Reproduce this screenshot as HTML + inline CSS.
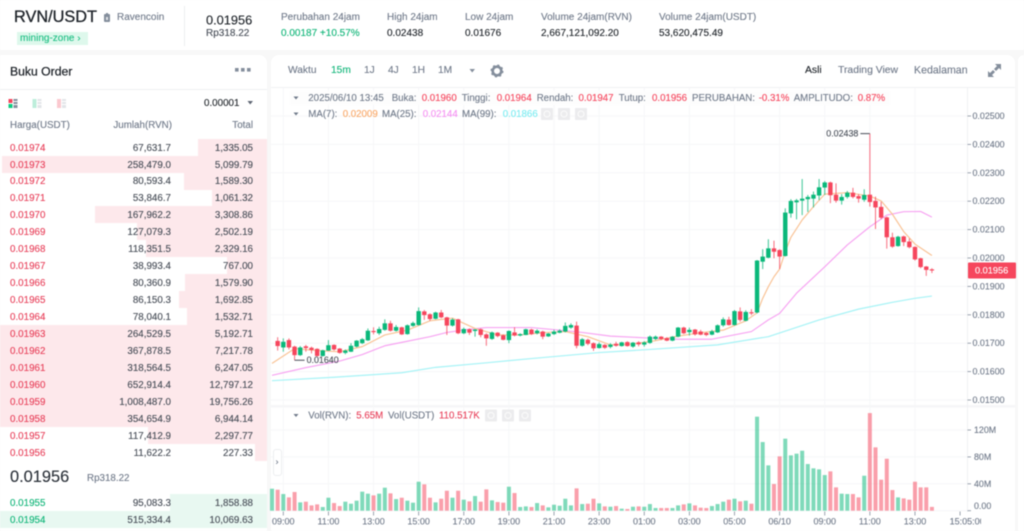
<!DOCTYPE html>
<html lang="id">
<head>
<meta charset="utf-8">
<title>RVN/USDT</title>
<style>
html,body{margin:0;padding:0;width:1024px;height:531px;overflow:hidden;background:#f8f8f8;font-family:"Liberation Sans",sans-serif;color:#1e2329}
#root{position:absolute;left:0;top:0;width:1024px;height:531px;overflow:hidden;filter:blur(0.45px)}
.t{position:absolute;white-space:nowrap;transform:translateY(-50%);line-height:1.2;font-size:10px;margin-top:1px;-webkit-text-stroke:.12px currentColor}
.g{color:#707a8a}
.up{color:#0fb578}
.dn{color:#e8405a}
.panel{position:absolute;background:#fff}
svg text{font-family:"Liberation Sans",sans-serif}
</style>
</head>
<body>
<div id="root">

<div class="panel" style="left:0;top:0;width:1024px;height:50px"></div>
<div class="t" style="left:14px;top:17px;font-size:16.3px;-webkit-text-stroke:.3px #1e2329">RVN/USDT</div>
<svg style="position:absolute;left:103px;top:13px" width="8" height="10"><rect x="1" y="1" width="6" height="8" rx="1" fill="#848e9c"/><rect x="3" y="0" width="2" height="2" fill="#848e9c"/><rect x="3" y="4" width="2" height="3" fill="#dfe2e6"/></svg>
<div class="t g" style="left:117px;top:17px;font-size:10px">Ravencoin</div>
<div style="position:absolute;left:17px;top:32px;width:71px;height:13px;background:#def8ec"></div>
<div class="t" style="left:20px;top:38px;font-size:10px;color:#1dbf84">mining-zone &#8250;</div>
<div style="position:absolute;left:184px;top:6px;width:1px;height:40px;background:#eceef0"></div>
<div class="t" style="left:206px;top:18.5px;font-size:12.8px">0.01956</div>
<div class="t" style="left:206px;top:32.5px;font-size:10px;color:#474d57">Rp318.22</div>
<div class="t g" style="left:281px;top:17px;font-size:10px">Perubahan 24jam</div>
<div class="t up" style="left:281px;top:33px;font-size:10px">0.00187 +10.57%</div>
<div class="t g" style="left:387px;top:17px;font-size:10px">High 24jam</div>
<div class="t" style="left:387px;top:33px;font-size:10px">0.02438</div>
<div class="t g" style="left:465px;top:17px;font-size:10px">Low 24jam</div>
<div class="t" style="left:465px;top:33px;font-size:10px">0.01676</div>
<div class="t g" style="left:541px;top:17px;font-size:10px">Volume 24jam(RVN)</div>
<div class="t" style="left:541px;top:33px;font-size:10px">2,667,121,092.20</div>
<div class="t g" style="left:659px;top:17px;font-size:10px">Volume 24jam(USDT)</div>
<div class="t" style="left:659px;top:33px;font-size:10px">53,620,475.49</div>

<div class="panel" id="book" style="left:0;top:55px;width:267px;height:476px;border-top-right-radius:8px;overflow:hidden"></div>
<div class="t" style="left:10px;top:71px;font-size:12.2px;-webkit-text-stroke:.25px #1e2329">Buku Order</div>
<svg style="position:absolute;left:234px;top:67px" width="18" height="6"><rect x="1" y="1" width="3.6" height="3.6" fill="#848e9c"/><rect x="7" y="1" width="3.6" height="3.6" fill="#848e9c"/><rect x="13" y="1" width="3.6" height="3.6" fill="#848e9c"/></svg>
<div style="position:absolute;left:0;top:89px;width:267px;height:1px;background:#eef0f2"></div>
<svg style="position:absolute;left:8px;top:99px" width="60" height="10">
<rect x="0.5" y="0" width="4" height="4" fill="#f6465d"/><rect x="0.5" y="5" width="4" height="4" fill="#0ecb81"/><rect x="5.5" y="0" width="4" height="2" fill="#848e9c"/><rect x="5.5" y="3" width="4" height="2" fill="#848e9c"/><rect x="5.5" y="6" width="4" height="3" fill="#848e9c"/>
<rect x="24.5" y="0" width="4" height="9" fill="#bdeedb"/><rect x="29.5" y="0" width="4" height="2" fill="#e2e5e8"/><rect x="29.5" y="3" width="4" height="2" fill="#e2e5e8"/><rect x="29.5" y="6" width="4" height="3" fill="#e2e5e8"/>
<rect x="49" y="0" width="4" height="9" fill="#fbc8cf"/><rect x="54" y="0" width="4" height="2" fill="#e2e5e8"/><rect x="54" y="3" width="4" height="2" fill="#e2e5e8"/><rect x="54" y="6" width="4" height="3" fill="#e2e5e8"/>
</svg>
<div class="t" style="left:204px;top:103px;font-size:9.8px">0.00001</div>
<svg style="position:absolute;left:247px;top:100px" width="7" height="6"><path d="M0.5 1H6L3.2 4.5Z" fill="#5e6673"/></svg>
<div class="t g" style="left:10px;top:125px;font-size:9.8px">Harga(USDT)</div>
<div class="t g" style="right:852px;top:125px;font-size:9.8px">Jumlah(RVN)</div>
<div class="t g" style="right:771px;top:125px;font-size:9.8px">Total</div>
<div class="t" style="left:10px;top:477px;font-size:16.4px;color:#2b3139">0.01956</div>
<div class="t g" style="left:87px;top:477.5px;font-size:9.8px">Rp318.22</div>

<div class="panel" style="left:271px;top:55px;width:744px;height:476px;border-top-left-radius:8px;border-top-right-radius:8px"></div>
<div class="panel" style="left:1018px;top:55px;width:6px;height:476px;border-top-left-radius:6px"></div>
<div class="t g" style="left:288px;top:70px;font-size:10.2px">Waktu</div>
<div class="t up" style="left:331px;top:70px;font-size:10.2px">15m</div>
<div class="t g" style="left:364px;top:70px;font-size:10.2px">1J</div>
<div class="t g" style="left:388px;top:70px;font-size:10.2px">4J</div>
<div class="t g" style="left:412px;top:70px;font-size:10.2px">1H</div>
<div class="t g" style="left:438px;top:70px;font-size:10.2px">1M</div>
<svg style="position:absolute;left:469px;top:68px" width="7" height="6"><path d="M0.5 1H6L3.2 4.5Z" fill="#848e9c"/></svg>
<svg style="position:absolute;left:490px;top:64px" width="14" height="14"><circle cx="7" cy="7" r="4.3" fill="none" stroke="#848e9c" stroke-width="2.6"/><circle cx="7" cy="7" r="5.7" fill="none" stroke="#848e9c" stroke-width="1.6" stroke-dasharray="2 2.5"/></svg>
<div class="t" style="left:805px;top:70px;font-size:10.4px">Asli</div>
<div class="t g" style="left:838px;top:70px;font-size:10.4px">Trading View</div>
<div class="t g" style="left:914px;top:70px;font-size:10.6px">Kedalaman</div>
<svg style="position:absolute;left:987px;top:63px" width="15" height="15"><path d="M8 1h6v6l-2-2-3 3-2-2 3-3zM1 8l2 2 3-3 2 2-3 3 2 2H1z" fill="#848e9c"/></svg>
<div style="position:absolute;left:271px;top:87px;width:744px;height:1px;background:#f0f1f3"></div>

<svg id="chart" style="position:absolute;left:0;top:0" width="1024" height="531"></svg>

<div style="position:absolute;left:273px;top:449px;width:9px;height:27px;background:#fff;border:1px solid #eceef0;border-radius:3px;box-sizing:border-box"></div>
<div class="t g" style="left:275.5px;top:461px;font-size:9px">&#8250;</div>
</div>

<script>
// Candles, from index -1 (left edge) to 115 (13:45), prices in units of 0.00001 USDT
const candleOpen = [1708,1685,1711,1688,1658,1689,1684,1680,1655,1674,1694,1681,1666,1670,1688,1700,1710,1743,1735,1747,1770,1744,1756,1732,1761,1764,1812,1802,1786,1808,1791,1762,1784,1735,1749,1743,1749,1731,1715,1737,1728,1711,1738,1727,1729,1748,1735,1741,1724,1732,1737,1741,1755,1762,1691,1712,1700,1683,1694,1687,1698,1690,1704,1688,1703,1695,1701,1715,1723,1718,1709,1723,1755,1739,1748,1741,1736,1730,1738,1763,1783,1764,1812,1779,1809,1808,1987,2001,2034,2028,2007,2157,2196,2202,2207,2209,2220,2248,2266,2223,2202,2215,2230,2218,2205,2223,2201,2180,2143,2073,2042,2076,2058,2039,1999,1970,1960];
const candleHigh = [1721,1717,1717,1691,1690,1694,1688,1682,1677,1711,1696,1683,1678,1700,1711,1718,1752,1756,1758,1784,1779,1764,1758,1766,1776,1826,1817,1805,1811,1817,1793,1788,1786,1755,1752,1750,1752,1735,1741,1739,1731,1745,1756,1735,1751,1751,1749,1744,1736,1747,1749,1773,1770,1776,1718,1716,1703,1703,1697,1700,1705,1705,1707,1704,1707,1707,1727,1727,1725,1721,1725,1757,1758,1755,1750,1747,1739,1747,1766,1791,1793,1817,1826,1816,1820,1993,2031,2066,2061,2031,2175,2207,2208,2278,2222,2234,2278,2271,2269,2263,2225,2236,2247,2225,2242,2438,2216,2198,2146,2089,2078,2079,2069,2041,2001,1972,1964];
const candleLow = [1674,1670,1678,1640,1655,1670,1664,1653,1653,1673,1674,1663,1661,1669,1685,1697,1708,1731,1729,1744,1741,1741,1729,1730,1758,1762,1782,1779,1784,1788,1729,1759,1732,1732,1729,1723,1721,1691,1712,1721,1710,1700,1724,1724,1728,1729,1731,1714,1722,1729,1735,1738,1751,1682,1688,1693,1673,1681,1680,1682,1688,1688,1688,1684,1689,1688,1698,1711,1711,1707,1707,1721,1732,1727,1727,1728,1725,1728,1736,1758,1762,1762,1776,1777,1799,1805,1961,1999,1999,1961,2005,2142,2136,2151,2162,2178,2204,2222,2193,2195,2188,2209,2210,2195,2198,2181,2102,2137,2033,2036,2040,2042,2034,1991,1964,1937,1947];
const candleClose = [1690,1705,1685,1658,1685,1683,1676,1655,1675,1693,1678,1666,1674,1691,1709,1714,1744,1739,1750,1770,1744,1757,1731,1763,1771,1813,1799,1785,1808,1791,1762,1783,1735,1750,1737,1748,1729,1717,1738,1725,1712,1743,1727,1732,1749,1732,1744,1723,1734,1741,1744,1761,1764,1691,1714,1698,1682,1697,1684,1695,1691,1703,1690,1702,1696,1703,1723,1723,1715,1709,1723,1755,1735,1747,1731,1730,1729,1742,1763,1784,1764,1813,1782,1810,1805,1991,2005,2034,2022,2005,2160,2201,2203,2209,2215,2223,2249,2266,2221,2202,2215,2230,2215,2209,2222,2197,2178,2142,2073,2040,2075,2056,2038,1995,1968,1958,1956];
// Volume in millions RVN, from index -2 to 115
const volumeValues = [32.7,31.2,24.8,19.8,27.8,12.4,13.4,7.9,9.4,5.5,19.3,11.4,6.9,13.4,10.4,14.9,28.3,25.3,22.8,25.3,34.2,25.8,17.3,19.3,14.9,11.9,43.1,39.2,19.3,12.4,17.8,29.7,19.3,29.7,16.4,13.9,21.8,13.4,31.7,15.4,12.9,11.9,35.7,26.3,5.5,6.4,5.5,11.4,7.9,5.0,8.9,7.4,17.8,7.9,33.2,9.9,10.4,17.8,10.9,6.4,5.9,6.9,3.0,2.5,5.9,6.4,5.9,9.9,4.0,4.0,4.0,4.0,7.9,9.4,10.9,7.9,4.5,4.0,6.9,9.9,13.4,16.4,17.8,13.9,14.9,10.4,139.8,102.1,67.4,39.7,80.8,107.1,82.3,84.8,89.2,69.4,63.0,61.5,53.0,58.5,34.7,25.3,24.8,24.8,19.8,52.0,145.2,94.2,46.1,77.3,30.7,19.8,18.3,16.4,43.1,34.7,34.7,5.65];
const ma7Index = [-2,2,6,10,14,18,22,26,30,34,38,42,46,50,54,58,62,66,70,74,78,82,84,85,86,87,88,89,90,92,94,96,100,104,106,108,110,112,115];
const ma7Values = [1629,1681,1674,1670,1688,1729,1746,1779,1788,1752,1729,1729,1737,1741,1723,1694,1697,1709,1725,1737,1746,1779,1807,1858,1899,1934,1961,2022,2073,2134,2181,2225,2230,2218,2201,2154,2093,2049,2009];
const ma25Index = [-2,4,10,14,18,21,26,29,33,36,44,50,53,58,64,70,76,83,86,88,91,96,100,104,107,110,113,115];
const ma25Values = [1587,1614,1637,1660,1691,1703,1723,1738,1749,1755,1755,1744,1738,1725,1719,1714,1714,1741,1782,1805,1876,1969,2046,2110,2151,2163,2164,2144];
const ma99Index = [-2,9,21,27,36,44,56,65,77,86,95,102,108,112,115];
const ma99Values = [1568,1580,1596,1615,1631,1646,1667,1678,1694,1723,1782,1820,1844,1858,1866];
const priceTicks = [2500,2400,2300,2200,2100,2000,1900,1800,1700,1600,1500];
const volumeTicks = [120,80,40,0];
const timeTickIndex = [0,8,16,24,32,40,48,56,64,72,80,88,96,104,112,120];
const timeLabels = ["09:00","11:00","13:00","15:00","17:00","19:00","21:00","23:00","01:00","03:00","05:00","06/10","09:00","11:00","13:00","15:05:00"];
const askPrices = ["0.01974","0.01973","0.01972","0.01971","0.01970","0.01969","0.01968","0.01967","0.01966","0.01965","0.01964","0.01963","0.01962","0.01961","0.01960","0.01959","0.01958","0.01957","0.01956"];
const askAmounts = ["67,631.7","258,479.0","80,593.4","53,846.7","167,962.2","127,079.3","118,351.5","38,993.4","80,360.9","86,150.3","78,040.1","264,529.5","367,878.5","318,564.5","652,914.4","1,008,487.0","354,654.9","117,412.9","11,622.2"];
const askTotals = ["1,335.05","5,099.79","1,589.30","1,061.32","3,308.86","2,502.19","2,329.16","767.00","1,579.90","1,692.85","1,532.71","5,192.71","7,217.78","6,247.05","12,797.12","19,756.26","6,944.14","2,297.77","227.33"];
const bidPrices = ["0.01955","0.01954"];
const bidAmounts = ["95,083.3","515,334.4"];
const bidTotals = ["1,858.88","10,069.63"];

const NS = "http://www.w3.org/2000/svg";
const chart = document.getElementById("chart");
const root = document.getElementById("root");
const UP = "#0ab87a", DOWN = "#f6465d", AXIS = "#848e9c", GRID = "#f6f7f8";
const xScale = i => 283.3 + 5.64 * i;
const yPrice = p => 258 + (2000 - p) * 0.284;
const yVolume = v => 510.7 - v * 0.6725;
const fmtPrice = p => (p / 100000).toFixed(5);

function svgEl(tag, attrs, text) {
  const el = document.createElementNS(NS, tag);
  for (const k in attrs) el.setAttribute(k, attrs[k]);
  if (text !== undefined) el.textContent = text;
  chart.appendChild(el);
  return el;
}
function label(x, y, str, fill, size, anchor) {
  return svgEl("text", {x: x, y: y, fill: fill, stroke: fill, "stroke-width": 0.12, "font-size": size, "text-anchor": anchor || "start", "dominant-baseline": "central"}, str);
}

// Plot background panels
let el = svgEl("rect", {x: 271, y: 405, width: 744, height: 2.5, fill: "#f6f6f7"});


el = svgEl("line", {x1: 967.5, x2: 967.5, y1: 88, y2: 512, stroke: "#f0f1f3", "stroke-width": 1});



// Grid
timeTickIndex.forEach((idx, n) => {
  if (n === timeTickIndex.length - 1) return;
  const grid = svgEl("line", {x1: xScale(idx), x2: xScale(idx), y1: 88, y2: 511, stroke: GRID, "stroke-width": 1});
  
  
});
priceTicks.forEach(p => {
  const y = yPrice(p);
  const grid = svgEl("line", {x1: 271, x2: 967, y1: y, y2: y, stroke: GRID, "stroke-width": 1});
  
  
  const tick = svgEl("line", {x1: 967.5, x2: 971, y1: y, y2: y, stroke: AXIS, "stroke-width": 0.8});
  
  
  const t = label(972.5, y, fmtPrice(p), "#707a8a", 8.9);
  
  
});
volumeTicks.forEach(v => {
  const y = yVolume(v);
  const grid = svgEl("line", {x1: 271, x2: 967, y1: y, y2: y, stroke: GRID, "stroke-width": 1});
  
  
  const tick = svgEl("line", {x1: 967.5, x2: 971, y1: y, y2: y, stroke: AXIS, "stroke-width": 0.8});
  
  
  const t = label(974, v === 0 ? y - 4.5 : y, v === 0 ? "0.00" : v + "M", "#707a8a", 8.9);
  
  
});
const clip = svgEl("clipPath", {id: "xclip"});
const clipR = document.createElementNS(NS, "rect");
clipR.setAttribute("x", 270); clipR.setAttribute("y", 505); clipR.setAttribute("width", 711); clipR.setAttribute("height", 26);
clip.appendChild(clipR);
timeTickIndex.forEach((idx, n) => {
  const x = xScale(idx);
  const tick = svgEl("line", {x1: x, x2: x, y1: 511.5, y2: 515.5, stroke: AXIS, "stroke-width": 0.8});
  
  
  const t = label(n === timeLabels.length - 1 ? x + 7 : x, 521.5, timeLabels[n], "#707a8a", 9, "middle");
  t.setAttribute("clip-path", "url(#xclip)");
  
  
});

// Volume bars
volumeValues.forEach((v, n) => {
  const i = n - 2;
  const c = n - 1;
  const rising = c < 0 ? true : candleClose[c] >= candleOpen[c];
  const top = yVolume(v);
  const bar = svgEl("rect", {x: xScale(i) - 2, y: top, width: 4, height: yVolume(0) - top, fill: rising ? UP : DOWN, "fill-opacity": 0.52});
  
  
});

// Moving averages
function maLine(idx, vals, color) {
  const pts = idx.map((ix, n) => xScale(ix).toFixed(2) + "," + yPrice(vals[n]).toFixed(2)).join(" ");
  return svgEl("polyline", {points: pts, fill: "none", stroke: color, "stroke-width": 1.2, "stroke-linejoin": "round"});
}
const ma99Line = maLine(ma99Index, ma99Values, "#a6f3f6");


const ma25Line = maLine(ma25Index, ma25Values, "#f7a4f2");


const ma7Line = maLine(ma7Index, ma7Values, "#f9c396");



// Candles
candleOpen.forEach((o, n) => {
  const i = n - 1;
  const c = candleClose[n];
  const color = c >= o ? UP : DOWN;
  const x = xScale(i);
  const wick = svgEl("line", {x1: x, x2: x, y1: yPrice(candleHigh[n]), y2: yPrice(candleLow[n]), stroke: color, "stroke-width": 1, "stroke-opacity": 0.8});
  
  
  const top = yPrice(Math.max(o, c));
  const body = svgEl("rect", {x: x - 2.2, y: top, width: 4.4, height: Math.max(1, yPrice(Math.min(o, c)) - top), fill: color});
  
  
});

// High / low annotations
const hiIdx = candleHigh.indexOf(Math.max.apply(null, candleHigh));
const loIdx = candleLow.indexOf(Math.min.apply(null, candleLow));
const hiX = xScale(hiIdx - 1), hiY = yPrice(candleHigh[hiIdx]);
const loX = xScale(loIdx - 1), loY = yPrice(candleLow[loIdx]);
const hiDash = svgEl("line", {x1: hiX - 9.5, x2: hiX, y1: hiY, y2: hiY, stroke: "#474d57", "stroke-width": 1});


const hiText = label(hiX - 11.5, hiY, fmtPrice(candleHigh[hiIdx]), "#474d57", 8.9, "end");


const loDash = svgEl("line", {x1: loX, x2: loX + 10, y1: loY, y2: loY, stroke: "#474d57", "stroke-width": 1});


const loText = label(loX + 12, loY, fmtPrice(candleLow[loIdx]), "#474d57", 8.9);



// Last price tag
const lastClose = candleClose[candleClose.length - 1];
const tag = svgEl("rect", {x: 968, y: yPrice(lastClose) - 8, width: 48, height: 16, fill: "#f6465d", rx: 1});


const tagText = label(975, yPrice(lastClose), fmtPrice(lastClose), "#fff", 9.2);



// Legend strips
let strip = svgEl("rect", {x: 290, y: 91, width: 600, height: 14, fill: "#fdfdfd"});


const ohlcLabels = [["2025/06/10 13:45",308.3],["Buka:",391.7],["Tinggi:",461.7],["Rendah:",536.7],["Tutup:",618.7],["PERUBAHAN:",692],["AMPLITUDO:",793.7]];
const ohlcValues = [["0.01960",421.7],["0.01964",496.7],["0.01947",578.5],["0.01956",652],["-0.31%",758.7],["0.87%",857.7]];
ohlcLabels.forEach(a => {
  const t = label(a[1], 98.7, a[0], "#707a8a", 9.7);
  
  
});
ohlcValues.forEach(a => {
  const t = label(a[1], 98.7, a[0], "#f6465d", 9.7);
  
  
});
const maLegend = [["MA(7):",308.3,"#707a8a"],["0.02009",342.7,"#f9a868"],["MA(25):",382,"#707a8a"],["0.02144",422.7,"#f592f2"],["MA(99):",462,"#707a8a"],["0.01866",502.7,"#7cecf2"]];
maLegend.forEach(a => {
  const t = label(a[1], 114.7, a[0], a[2], 9.7);
  
  
});
const volLegend = [["Vol(RVN):",308.3,"#707a8a"],["5.65M",356.3,"#e8405a"],["Vol(USDT)",388,"#707a8a"],["110.517K",439,"#e8405a"]];
volLegend.forEach(a => {
  const t = label(a[1], 416, a[0], a[2], 9.7);
  
  
});
[[296,98],[296,114],[296,415.5]].forEach(p => {
  const caret = svgEl("path", {d: "M" + (p[0]-2.5) + " " + (p[1]-1.5) + "h5l-2.5 3z", fill: "#707a8a"});
  
  
});
[[541,108],[558,108],[575,108],[485,409.5],[502,409.5],[519,409.5]].forEach(p => {
  const btn = svgEl("rect", {x: p[0], y: p[1], width: 12, height: 12, fill: "#ececee", rx: 1});
  
  
  const glyph = svgEl("circle", {cx: p[0] + 6, cy: p[1] + 6, r: 3, fill: "none", stroke: "#fafafa", "stroke-width": 1.2});
  
  
});

// Order book
function div(css, text, cls) {
  const d = document.createElement("div");
  d.style.cssText = css;
  if (cls) d.className = cls;
  if (text !== undefined) d.textContent = text;
  root.insertBefore(d, chart);
  return d;
}
function depthWidth(total) {
  return Math.min(267, parseFloat(total.replace(/,/g, "")) * 0.052);
}
askPrices.forEach((p, k) => {
  const cy = 147.2 + 16.94 * k;
  const ty = cy + 0.4;
  const w = depthWidth(askTotals[k]);
  const bar = div("position:absolute;top:" + (cy - 8.47) + "px;height:16.94px;left:" + (267 - w) + "px;width:" + w + "px;background:#fde8eb");
  
  
  const a = div("left:10px;top:" + ty + "px;font-size:9.8px", p, "t dn");
  
  
  const b = div("right:853px;top:" + ty + "px;font-size:9.8px;color:#474d57", askAmounts[k], "t");
  
  
  const c = div("right:771px;top:" + ty + "px;font-size:9.8px;color:#474d57", askTotals[k], "t");
  
  
});
bidPrices.forEach((p, k) => {
  const cy = 502.3 + 17 * k;
  const ty = cy + 0.6;
  const w = depthWidth(bidTotals[k]);
  const bar = div("position:absolute;top:" + (cy - 8.5) + "px;height:17px;left:" + (267 - w) + "px;width:" + w + "px;background:#e8f8f1");
  
  
  const a = div("left:10px;top:" + ty + "px;font-size:9.8px", p, "t up");
  
  
  const b = div("right:853px;top:" + ty + "px;font-size:9.8px;color:#474d57", bidAmounts[k], "t");
  
  
  const c = div("right:771px;top:" + ty + "px;font-size:9.8px;color:#474d57", bidTotals[k], "t");
  
  
});
</script>
</body>
</html>
